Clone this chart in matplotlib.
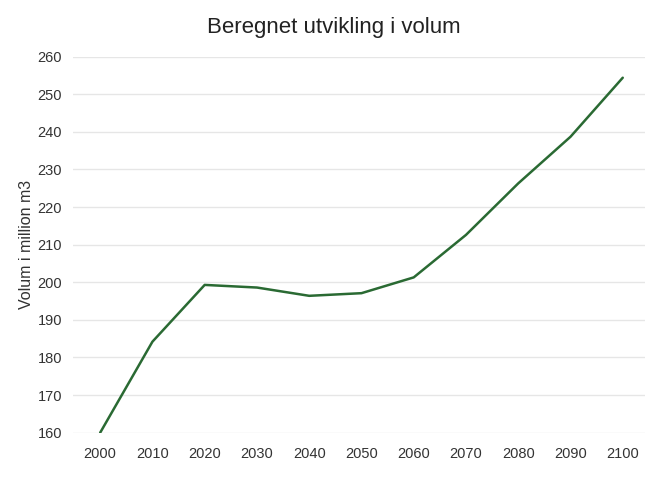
import matplotlib
matplotlib.use("Agg")
import matplotlib.pyplot as plt

years = [2000, 2010, 2020, 2030, 2040, 2050, 2060, 2070, 2080, 2090, 2100]
volume = [160.0, 184.2, 199.3, 198.6, 196.4, 197.1, 201.3, 212.6, 226.3, 238.7, 254.4]
y_ticks = list(range(160, 261, 10))

plt.rcParams["font.family"] = ["Liberation Sans", "DejaVu Sans"]

fig = plt.figure(figsize=(6.46, 4.97), dpi=100)
ax = fig.add_axes([0.113, 0.1294, 0.885, 0.7566])

ax.plot(years, volume, color="#2a6a33", lw=1.8, solid_capstyle="round")

ax.set_xlim(1994.8, 2104.2)
ax.set_ylim(160, 260)
ax.set_xticks(years)
ax.set_yticks(y_ticks)
ax.tick_params(length=0, labelsize=10.5, colors="#333333")
ax.tick_params(axis="x", pad=10)
ax.tick_params(axis="y", pad=8)
ax.grid(axis="y", color="#e6e6e6", lw=1)
ax.set_axisbelow(True)
for side in ax.spines.values():
    side.set_visible(False)

ax.set_ylabel("Volum i million m3", fontsize=11.5, color="#333333", labelpad=2)
fig.text(0.517, 0.944, "Beregnet utvikling i volum", ha="center", va="center",
         fontsize=16, color="#222222")

fig.savefig("out.png", dpi=100)
